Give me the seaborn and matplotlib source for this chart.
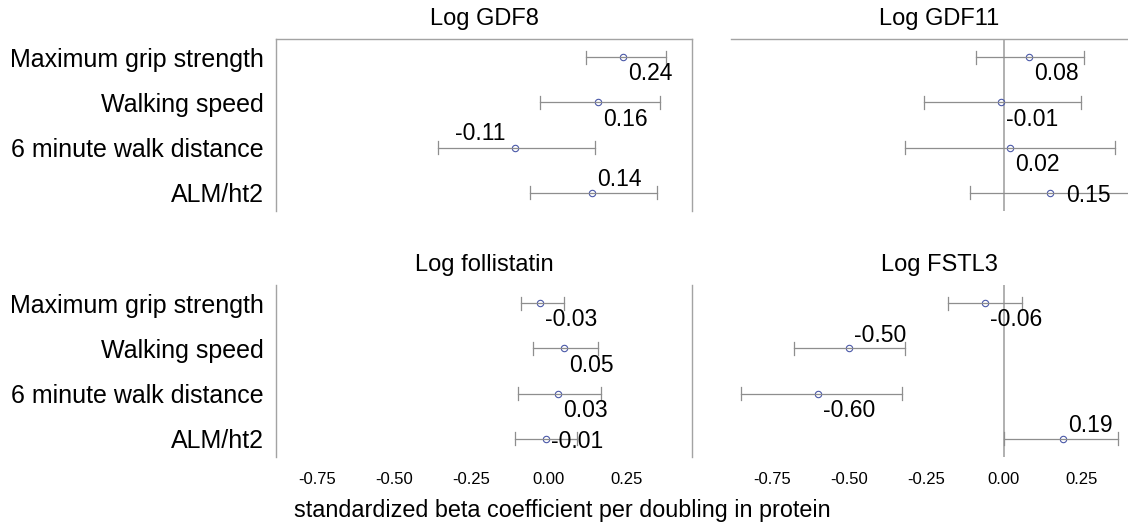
import numpy as np
import pandas as pd
import matplotlib as mpl
mpl.use('Agg')
import matplotlib.pyplot as plt
import seaborn as sns

# outcomes, top to bottom
outcomes = ['Maximum grip strength', 'Walking speed', '6 minute walk distance', 'ALM/ht2']
panels = ['Log GDF8', 'Log GDF11', 'Log follistatin', 'Log FSTL3']

# standardized betas and 95% CI
gdf8_est = [0.24, 0.16, -0.11, 0.14]
gdf8_lo = [0.12, -0.03, -0.36, -0.06]
gdf8_hi = [0.38, 0.36, 0.15, 0.35]

gdf11_est = [0.08, -0.01, 0.02, 0.15]
gdf11_lo = [-0.09, -0.26, -0.32, -0.11]
gdf11_hi = [0.26, 0.25, 0.36, 0.43]

fst_est = [-0.03, 0.05, 0.03, -0.01]
fst_lo = [-0.09, -0.05, -0.10, -0.11]
fst_hi = [0.05, 0.16, 0.17, 0.09]

fstl3_est = [-0.06, -0.50, -0.60, 0.19]
fstl3_lo = [-0.18, -0.68, -0.85, 0.00]
fstl3_hi = [0.06, -0.32, -0.33, 0.37]

xticks = [-0.75, -0.50, -0.25, 0.00, 0.25]

# where each value label sits relative to its point: (ha, dx pt, dy pt)
below, above, beside = ('left', 3.6, -12), ('left', 3.6, 9.5), ('left', 3.6, -2)
label_pos = [
    [below, below, ('right', -6.5, 10), above],
    [below, below, below, ('left', 11.5, -2)],
    [below, below, below, beside],
    [below, above, below, above],
]

est_all = [gdf8_est, gdf11_est, fst_est, fstl3_est]
lo_all = [gdf8_lo, gdf11_lo, fst_lo, fstl3_lo]
hi_all = [gdf8_hi, gdf11_hi, fst_hi, fstl3_hi]

W, H = 1128, 529
plt.rcParams['font.family'] = ['Liberation Sans', 'DejaVu Sans']
fig = plt.figure(figsize=(W / 100, H / 100), dpi=100)
fig.patch.set_facecolor('white')

def px_axes(x0, top, w, h):
    return fig.add_axes([x0 / W, 1 - (top + h) / H, w / W, h / H])

boxes = [(276, 39, 416, 172), (731, 39, 416, 172),
         (276, 285, 416, 172), (731, 285, 416, 172)]

blue = '#4a58a8'
grey = '#8e8e8e'
spine_c = '#a3a3a3'

for i, name in enumerate(panels):
    ax = px_axes(*boxes[i])
    df = pd.DataFrame({
        'outcome': outcomes * 3,
        'value': est_all[i] + lo_all[i] + hi_all[i],
    })
    df['outcome'] = pd.Categorical(df['outcome'], categories=outcomes)
    # median of (lo, est, hi) = est, full range = CI
    sns.pointplot(data=df, x='value', y='outcome', orient='h',
                  estimator='median', errorbar=('pi', 100),
                  linestyle='none', marker='o', markersize=4.6,
                  markerfacecolor='none', markeredgecolor=blue,
                  markeredgewidth=0.8, color=blue, zorder=3,
                  err_kws={'color': grey, 'linewidth': 0.9},
                  capsize=0.29, ax=ax)
    ax.set_xlim(-0.883, 0.463)
    ax.set_ylim(3.4, -0.4)
    ax.set_xlabel('')
    ax.set_ylabel('')
    ax.set_facecolor('white')
    ax.tick_params(length=0)
    ax.set_xticks(xticks)
    ax.set_xticklabels(['%.2f' % t for t in xticks], fontsize=12)
    ax.tick_params(axis='x', pad=11)
    ax.tick_params(axis='y', pad=8.6, labelsize=18)
    for s in ax.spines.values():
        s.set_color(spine_c)
        s.set_linewidth(1.0)
    ax.spines['bottom'].set_visible(False)
    col = i % 2
    row = i // 2
    if row == 0:
        ax.set_xticklabels([])
    else:
        ax.spines['top'].set_visible(False)
    if col == 1:
        ax.set_yticklabels([])
        ax.spines['left'].set_visible(False)
        ax.axvline(0, color='#b0b0b0', linewidth=1.4, zorder=1)
    ax.set_title(name, fontsize=17, pad=10)

    for j, v in enumerate(est_all[i]):
        ha, dx, dy = label_pos[i][j]
        ax.annotate('%.2f' % v, (v, j), xytext=(dx, dy),
                    textcoords='offset points', ha=ha, va='center',
                    fontsize=16.5, color='black', zorder=4)

fig.text(562 / W, 1 - 511 / H, 'standardized beta coefficient per doubling in protein',
         ha='center', va='center', fontsize=16.8)

fig.savefig('out.png', dpi=100, facecolor='white')
